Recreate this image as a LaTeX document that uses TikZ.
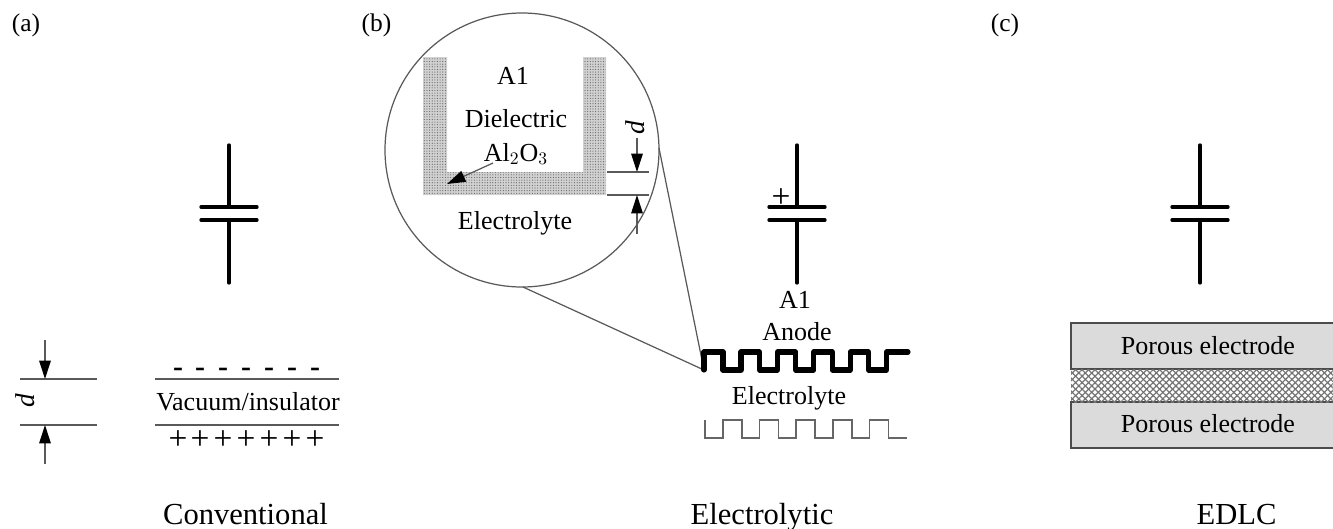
\documentclass[tikz,border=0pt]{standalone}
\usepackage{fontspec}
\setmainfont{Liberation Serif}
\usetikzlibrary{arrows.meta, patterns.meta}
\tikzset{>={Triangle[length=10.5pt,width=6.6pt,color=black,fill=black]}}
\tikzset{
    lbl/.style={inner sep=0pt, font=\fontsize{14.8}{17}\selectfont},
    caption/.style={inner sep=0pt, anchor=base, font=\fontsize{17.4}{20}\selectfont},
    panel/.style={inner sep=0pt, font=\fontsize{14.5}{17}\selectfont},
    plussign/.style={inner sep=0pt, font=\fontsize{19}{22}\selectfont},
    minussign/.style={inner sep=0pt, font=\fontsize{17}{18}\selectfont\bfseries},
    dist/.style={inner sep=0pt, font=\fontsize{15.5}{18}\selectfont\itshape},
    thinline/.style={draw=black!65, line width=0.7pt},
    plate/.style={line width=1.9pt, line cap=round},
    elec/.style={draw=black!70, fill=black!14, line width=0.7pt},
    dotfill/.style={pattern={Dots[radius=0.34pt,distance=1.5pt]}, pattern color=black!60}
}

\begin{document}
\begin{tikzpicture}[x=0.02cm, y=-0.02cm]
    \useasboundingbox (0,0) rectangle (1333,528);
    % panel labels
    \node[panel] (pa) at (26,25) {(a)};
    \node[panel] (pb) at (376.5,25) {(b)};
    \node[panel] (pc) at (1005,25) {(c)};
    % capacitor symbols
    \foreach \x in {229,797,1200} {
        \draw[plate] (\x,145) -- (\x,207);
        \draw[plate] (\x-28,207) -- (\x+28,207);
        \draw[plate] (\x-28,220) -- (\x+28,220);
        \draw[plate] (\x,220) -- (\x,283);
    }
    \node[plussign] (cplus) at (781,198) {+};
    % (a) conventional
    \draw[thinline] (20,379) -- (97,379);
    \draw[thinline] (20,425) -- (97,425);
    \draw[thinline, ->] (45,340) -- (45,379);
    \draw[thinline, ->] (45,464) -- (45,425);
    \node[dist, rotate=90] (da) at (25,401) {d};
    \draw[thinline] (155,379) -- (339,379);
    \draw[thinline] (155,425) -- (339,425);
    \node[lbl] (vac) at (248,402) {Vacuum/insulator};
    \foreach \x [count=\i] in {178,200,223,246,269,292,315} {
        \node[minussign] (minus\i) at (\x,372) {-};
        \node[plussign] (plus\i) at (\x,440) {+};
    }
    \node[caption] (conv) at (245.5,524) {Conventional};
    % (b) magnified view
    \draw[thinline] (522,150) circle (137);
    \fill[black!18] (423,57) -- (447,57) -- (447,172) -- (583,172) -- (583,57) -- (606,57) -- (606,195) -- (423,195) -- cycle;
    \fill[dotfill] (423,57) -- (447,57) -- (447,172) -- (583,172) -- (583,57) -- (606,57) -- (606,195) -- (423,195) -- cycle;
    \node[lbl] (al) at (513,76) {A1};
    \node[lbl] (diel) at (516,119) {Dielectric};
    \node[lbl] (oxide) at (516,154) {Al$_2$O$_3$};
    \node[lbl] (elyt) at (515,223) {Electrolyte};
    \draw[thinline, ->] (493,163) -- (447,184);
    \draw[thinline] (607,172) -- (649,172);
    \draw[thinline] (607,195) -- (649,195);
    \draw[thinline, ->] (637,138) -- (637,172);
    \draw[thinline, ->] (637,234) -- (637,195);
    \node[dist, rotate=90] (db) at (635,128) {d};
    \coordinate (tipa) at (659,148);
    \coordinate (tipb) at (523,287);
    \coordinate (tipc) at (704,370);
    \draw[thinline] (tipa) -- (tipc) -- (tipb);
    % (b) anode and electrolyte
    \draw[line width=2.9pt, line join=round, line cap=round] (704,370) -- (704,352)
        \foreach \x in {0,36.4,...,146} { -- (723+\x,352) -- (723+\x,370) -- (741+\x,370) -- (741+\x,352) } -- (908,352);
    \draw[draw=black!60, line width=0.9pt] (705,420) -- (705,438)
        \foreach \x in {0,36.6,...,147} { -- (723+\x,438) -- (723+\x,420) -- (742+\x,420) -- (742+\x,438) } -- (907,438);
    \node[lbl] (alb) at (795,300) {A1};
    \node[lbl] (anode) at (797,332) {Anode};
    \node[lbl] (elytb) at (789,398) {Electrolyte};
    \node[caption] (ecap) at (762,524) {Electrolytic};
    % (c) EDLC
    \draw[elec] (1071,323) rectangle (1334,369);
    \draw[elec] (1071,402) rectangle (1334,448);
    \fill[pattern={Lines[angle=45,distance=2.6pt,line width=0.7pt]}, pattern color=black!55] (1071,369) rectangle (1334,402);
    \fill[pattern={Lines[angle=-45,distance=2.6pt,line width=0.7pt]}, pattern color=black!55] (1071,369) rectangle (1334,402);
    \node[lbl] (pora) at (1208,346) {Porous electrode};
    \node[lbl] (porb) at (1208,424) {Porous electrode};
    \node[caption] (edlc) at (1236.5,524) {EDLC};
\end{tikzpicture}
\end{document}
